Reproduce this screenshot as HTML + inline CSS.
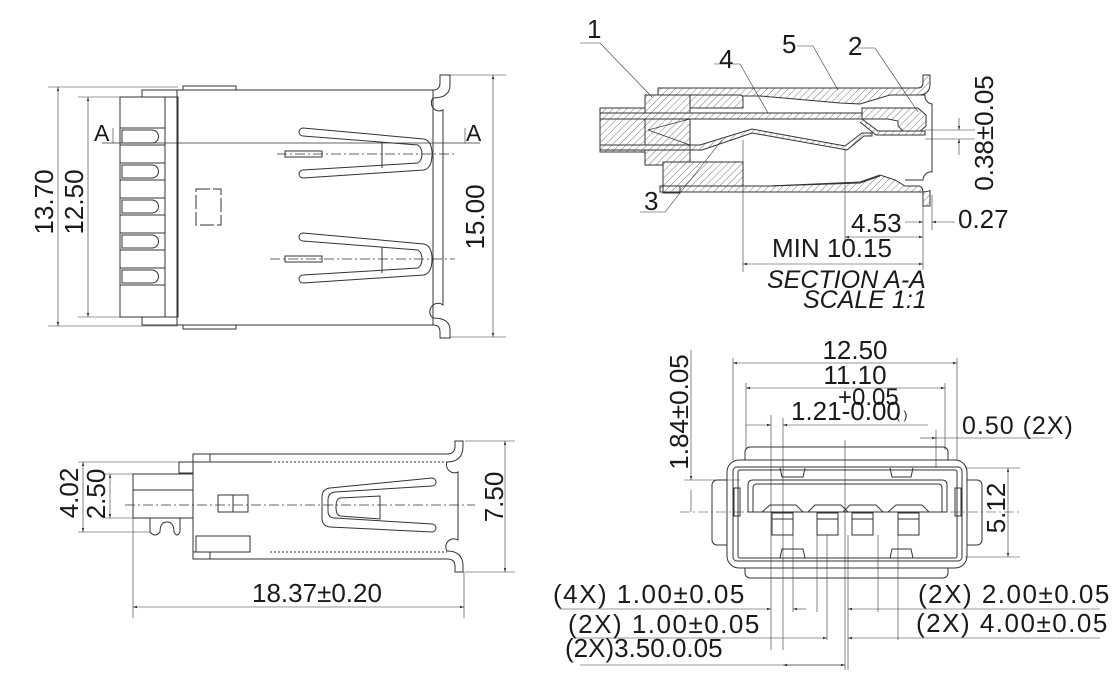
<!DOCTYPE html>
<html><head><meta charset="utf-8"><style>
html,body{margin:0;padding:0;background:#fff;}
svg{display:block;}
text{font-family:"Liberation Sans","Noto Sans CJK SC",sans-serif;fill:#1a1a1a;}
</style></head><body>
<svg width="1120" height="690" viewBox="0 0 1120 690" xmlns="http://www.w3.org/2000/svg">
<defs>
<pattern id="h" width="5" height="5" patternUnits="userSpaceOnUse" patternTransform="rotate(45)">
<rect width="5" height="5" fill="#fff"/><line x1="0" y1="0" x2="0" y2="5" stroke="#555" stroke-width="0.8"/>
</pattern>
<marker id="a" viewBox="0 0 10 10" refX="10" refY="5" markerWidth="7" markerHeight="7" orient="auto-start-reverse">
<path d="M0,2 L10,5 L0,8 Z" fill="#333"/></marker>
</defs>

<g fill="none" stroke="#333" stroke-width="1">
<rect x="177" y="90" width="256" height="235"/>
<rect x="183" y="86" width="53" height="4"/>
<rect x="183" y="325" width="53" height="4"/>
<rect x="120" y="97" width="58" height="220"/>
<line x1="165" y1="97" x2="165" y2="317"/>
<path d="M142,97 V90 H177"/><path d="M142,317 V325 H177"/>
<g>
<path d="M120,128 H165 M120,145 H165 M122,130 H152 A6,6 0 0 1 152,143 H122 Z"/>
<path d="M120,163 H165 M120,180 H165 M122,165 H152 A6,6 0 0 1 152,178 H122 Z"/>
<path d="M120,198 H165 M120,215 H165 M122,200 H152 A6,6 0 0 1 152,213 H122 Z"/>
<path d="M120,233 H165 M120,250 H165 M122,235 H152 A6,6 0 0 1 152,248 H122 Z"/>
<path d="M120,268 H165 M120,285 H165 M122,270 H152 A6,6 0 0 1 152,283 H122 Z"/>
</g>
<path d="M433,90 Q440,90 440,83 V75 H450 V85 Q450,98 433,98 A8,8 0 0 0 443,110 V305 A8,8 0 0 0 433,318 Q450,318 450,330 V338 H440 V332 Q440,325 433,325"/>
<path d="M303,128 L424,139 Q432,141 432,154 Q432,168 424,170 L303,178 A4,4 0 0 1 303,170 L418,163 Q422,160 422,154 Q422,148 418,145 L303,136 A4,4 0 0 1 303,128 Z"/>
<line x1="382" y1="142" x2="382" y2="168"/>
<rect x="285" y="151" width="37" height="6"/>
<path d="M303,233 L424,244 Q432,246 432,259 Q432,273 424,275 L303,283 A4,4 0 0 1 303,275 L418,268 Q422,265 422,259 Q422,253 418,250 L303,241 A4,4 0 0 1 303,233 Z"/>
<line x1="382" y1="247" x2="382" y2="273"/>
<rect x="285" y="256" width="37" height="6"/>
<rect x="196" y="189" width="25" height="36" stroke-dasharray="14,3"/>
<line x1="277" y1="154" x2="455" y2="154" stroke-dasharray="10,3,2,3" stroke-width="0.7"/>
<line x1="270" y1="259" x2="455" y2="259" stroke-dasharray="10,3,2,3" stroke-width="0.7"/>
<line x1="102" y1="143" x2="480" y2="143" stroke-width="0.7"/>
<line x1="48" y1="87" x2="178" y2="87" stroke-width="0.6"/>
<line x1="48" y1="326" x2="178" y2="326" stroke-width="0.6"/>
<line x1="58" y1="87" x2="58" y2="326" stroke-width="0.6" marker-start="url(#a)" marker-end="url(#a)"/>
<line x1="78" y1="97" x2="120" y2="97" stroke-width="0.6"/>
<line x1="78" y1="317" x2="120" y2="317" stroke-width="0.6"/>
<line x1="88" y1="97" x2="88" y2="317" stroke-width="0.6" marker-start="url(#a)" marker-end="url(#a)"/>
<line x1="450" y1="75" x2="506" y2="75" stroke-width="0.6"/>
<line x1="450" y1="337" x2="506" y2="337" stroke-width="0.6"/>
<line x1="493" y1="75" x2="493" y2="337" stroke-width="0.6" marker-start="url(#a)" marker-end="url(#a)"/>
<line x1="113" y1="128" x2="113" y2="143" stroke-width="0.6"/>
<line x1="465" y1="128" x2="465" y2="143" stroke-width="0.6"/>
</g>
<text x="94" y="141" font-size="23">A</text>
<text x="466" y="141" font-size="23">A</text>
<text transform="translate(53,202) rotate(-90)" text-anchor="middle" font-size="26">13.70</text>
<text transform="translate(83,202) rotate(-90)" text-anchor="middle" font-size="26">12.50</text>
<text transform="translate(484,217) rotate(-90)" text-anchor="middle" font-size="26">15.00</text>

<g fill="none" stroke="#333" stroke-width="1">
<path d="M193,454 H447 Q455,454 455,446 V441 H463 V446 Q463,462 447,462 A8,8 0 0 0 458,472 V540 A8,8 0 0 0 447,551 Q463,551 463,566 V572 H455 V566 Q455,559 447,559 H193 Z"/>
<line x1="270" y1="462" x2="447" y2="462" stroke-dasharray="2,2"/>
<line x1="270" y1="552" x2="447" y2="552" stroke-dasharray="2,2"/>
<line x1="193" y1="462" x2="270" y2="462"/><line x1="210" y1="454" x2="210" y2="462"/>
<rect x="179" y="462" width="14" height="11"/>
<rect x="133" y="474" width="60" height="44"/>
<line x1="133" y1="490" x2="193" y2="490"/>
<path d="M150,518 V532 Q155,538 160,532 Q160,522 167,522 Q174,522 174,532 Q177,538 180,532 V518"/>
<rect x="196" y="536" width="54" height="16"/>
<rect x="193" y="552" width="17" height="7"/>
<rect x="218" y="495" width="30" height="17"/><line x1="233" y1="495" x2="233" y2="512"/>
<path d="M432,478 A4,4 0 0 1 432,486 L335,492 Q328,493 328,500 V511 Q328,518 335,518 L432,524 A4,4 0 0 1 432,532 L330,527 Q322,526 322,518 V497 Q322,489 330,488 Z"/>
<path d="M340,498 L380,496 V519 L340,516 Q336,515 336,507 Q336,499 340,498 Z"/>
<line x1="125" y1="505" x2="475" y2="505" stroke-dasharray="10,3,2,3" stroke-width="0.7"/>
<line x1="78" y1="462" x2="180" y2="462" stroke-width="0.6"/>
<line x1="78" y1="532" x2="150" y2="532" stroke-width="0.6"/>
<line x1="83" y1="462" x2="83" y2="532" stroke-width="0.6" marker-start="url(#a)" marker-end="url(#a)"/>
<line x1="105" y1="474" x2="133" y2="474" stroke-width="0.6"/>
<line x1="105" y1="518" x2="150" y2="518" stroke-width="0.6"/>
<line x1="110" y1="474" x2="110" y2="518" stroke-width="0.6" marker-start="url(#a)" marker-end="url(#a)"/>
<line x1="465" y1="441" x2="515" y2="441" stroke-width="0.6"/>
<line x1="465" y1="572" x2="515" y2="572" stroke-width="0.6"/>
<line x1="505" y1="441" x2="505" y2="572" stroke-width="0.6" marker-start="url(#a)" marker-end="url(#a)"/>
<line x1="133" y1="518" x2="133" y2="618" stroke-width="0.6"/>
<line x1="464" y1="572" x2="464" y2="618" stroke-width="0.6"/>
<line x1="133" y1="607" x2="464" y2="607" stroke-width="0.6" marker-start="url(#a)" marker-end="url(#a)"/>
</g>
<text transform="translate(78,493) rotate(-90)" text-anchor="middle" font-size="26">4.02</text>
<text transform="translate(105,494) rotate(-90)" text-anchor="middle" font-size="26">2.50</text>
<text transform="translate(503,497) rotate(-90)" text-anchor="middle" font-size="26">7.50</text>
<text x="252" y="602" font-size="26">18.37±0.20</text>

<g stroke="#333" stroke-width="1">
<path d="M658,88 H918 Q923,88 923,82 V75 H930 V84 Q930,95 918,95 H890 L860,104 L840,103 L760,96 H658 Z" fill="url(#h)"/>
<rect x="645" y="95" width="45" height="70" fill="url(#h)"/>
<path d="M690,95 H740 Q743,95 743,99 V108 H690 Z" fill="url(#h)"/>
<rect x="600" y="108" width="45" height="44" fill="url(#h)"/>
<rect x="600" y="113" width="268" height="6" fill="url(#h)"/>
<path d="M862,108 H918 L926,115 V126 L918,133 H905 L898,126 V121 L888,119 H862 Z" fill="url(#h)"/>
<path d="M862,119 L878,131 H925 V135 H876 L860,122" fill="url(#h)"/>
<rect x="663" y="162" width="80" height="24" fill="url(#h)"/>
<path d="M600,145 H700 L752,129 L845,146 L862,133 H872 V136 H864 L847,150 L752,133 L702,150 H600 Z" fill="url(#h)"/>
<line x1="690" y1="119" x2="690" y2="160"/>
<line x1="648" y1="130" x2="690" y2="119" stroke-width="0.7"/>
<line x1="648" y1="130" x2="690" y2="145" stroke-width="0.7"/>
<path d="M660,186 H770 L860,182 L880,175 L895,180 L905,186 H918 Q923,186 923,193 V206 H930 V190 Q930,192 918,192 H660 Z" fill="url(#h)"/>
<path d="M770,186 L860,183 L880,176" fill="none"/>
<rect x="663" y="186" width="17" height="7" fill="none"/>
<path d="M918,95 H925 A8,8 0 0 0 932,104 V172 A8,8 0 0 0 923,180 H905" fill="none"/>
<g fill="none" stroke-width="0.6">
<path d="M580,43 H600 L652,97"/>
<path d="M714,64 H740 L768,113"/>
<path d="M797,46 H813 L838,90"/>
<path d="M858,48 H875 L918,112"/>
<path d="M640,212 H665 L722,140"/>
<line x1="743" y1="140" x2="743" y2="272"/>
<line x1="845" y1="148" x2="845" y2="242"/>
<line x1="923" y1="195" x2="923" y2="270"/>
<line x1="932" y1="195" x2="932" y2="230"/>
<line x1="845" y1="237" x2="923" y2="237" marker-start="url(#a)" marker-end="url(#a)"/>
<line x1="743" y1="264" x2="923" y2="264" marker-start="url(#a)" marker-end="url(#a)"/>
<line x1="905" y1="222" x2="923" y2="222" marker-end="url(#a)"/>
<line x1="955" y1="222" x2="932" y2="222" marker-end="url(#a)"/>
<line x1="925" y1="130" x2="975" y2="130"/>
<line x1="925" y1="139" x2="975" y2="139"/>
<line x1="959" y1="118" x2="959" y2="130" marker-end="url(#a)"/>
<line x1="959" y1="155" x2="959" y2="139" marker-end="url(#a)"/>
</g>
</g>
<text x="587" y="38" font-size="26">1</text>
<text x="848" y="55" font-size="26">2</text>
<text x="644" y="210" font-size="26">3</text>
<text x="719" y="68" font-size="26">4</text>
<text x="782" y="53" font-size="26">5</text>
<text transform="translate(993,133) rotate(-90)" text-anchor="middle" font-size="26">0.38±0.05</text>
<text x="851" y="232" font-size="26">4.53</text>
<text x="958" y="228" font-size="26">0.27</text>
<text x="772" y="257" font-size="26">MIN 10.15</text>
<text x="767" y="288" font-size="25" font-style="italic">SECTION  A-A</text>
<text x="803" y="308" font-size="25" font-style="italic">SCALE  1:1</text>

<g fill="none" stroke="#333" stroke-width="1">
<rect x="745" y="447" width="203" height="131" rx="5"/>
<rect x="712" y="480" width="22" height="65" rx="5"/>
<rect x="960" y="480" width="22" height="65" rx="5"/>
<rect x="727" y="460" width="240" height="108" rx="12" fill="#fff"/>
<rect x="733" y="467" width="229" height="94" rx="4"/>
<rect x="738" y="470" width="219" height="88" rx="2"/>
<rect x="734" y="488" width="6" height="28"/><rect x="955" y="488" width="6" height="28"/>
<path d="M748,512 V485 Q748,480 753,480 H942 Q947,480 947,485 V512 Z"/>
<path d="M753,512 V488 Q753,484 757,484 H938 Q942,484 942,488 V512"/>
<path d="M780,468 L782,477 H803 L805,468"/>
<path d="M890,468 L892,477 H911 L913,468"/>
<path d="M780,558 L782,549 H803 L805,558"/>
<path d="M890,558 L892,549 H911 L913,558"/>
<g>
<path d="M762,512 L770,505 H796 L803,512"/><rect x="772" y="513" width="21" height="22"/><line x1="772" y1="519" x2="793" y2="519"/>
<path d="M808,512 L815,505 H841 L848,512"/><rect x="817" y="513" width="21" height="22"/><line x1="817" y1="519" x2="838" y2="519"/>
<path d="M843,512 L850,505 H876 L883,512"/><rect x="852" y="513" width="21" height="22"/><line x1="852" y1="519" x2="873" y2="519"/>
<path d="M888,512 L896,505 H922 L929,512"/><rect x="898" y="513" width="21" height="22"/><line x1="898" y1="519" x2="919" y2="519"/>
</g>
<g stroke-width="0.6">
<line x1="680" y1="512" x2="1020" y2="512" stroke-dasharray="10,3,2,3"/>
<line x1="845" y1="440" x2="845" y2="670"/>
<line x1="733" y1="358" x2="733" y2="460"/><line x1="957" y1="358" x2="957" y2="460"/>
<line x1="733" y1="363" x2="957" y2="363" marker-start="url(#a)" marker-end="url(#a)"/>
<line x1="746" y1="383" x2="746" y2="450"/><line x1="945" y1="383" x2="945" y2="450"/>
<line x1="746" y1="388" x2="945" y2="388" marker-start="url(#a)" marker-end="url(#a)"/>
<line x1="771" y1="415" x2="771" y2="650"/><line x1="783" y1="418" x2="783" y2="650"/>
<line x1="746" y1="425" x2="771" y2="425" marker-end="url(#a)"/>
<line x1="783" y1="425" x2="928" y2="425" marker-start="url(#a)"/>
<line x1="935" y1="438" x2="1053" y2="438"/>
<line x1="920" y1="438" x2="936" y2="438" marker-end="url(#a)"/>
<line x1="936" y1="430" x2="936" y2="468"/>
<line x1="684" y1="480" x2="740" y2="480"/>
<line x1="691" y1="350" x2="691" y2="480" marker-end="url(#a)"/>
<line x1="691" y1="512" x2="691" y2="490"/>
<line x1="965" y1="468" x2="1020" y2="468"/><line x1="965" y1="557" x2="1020" y2="557"/>
<line x1="1008" y1="468" x2="1008" y2="557" marker-start="url(#a)" marker-end="url(#a)"/>
<line x1="793" y1="535" x2="793" y2="612"/><line x1="817" y1="535" x2="817" y2="612"/>
<line x1="827" y1="535" x2="827" y2="640"/><line x1="848" y1="535" x2="848" y2="670"/>
<line x1="878" y1="535" x2="878" y2="612"/>
<line x1="898" y1="535" x2="898" y2="640"/>
<line x1="560" y1="609" x2="771" y2="609" marker-end="url(#a)"/>
<line x1="793" y1="609" x2="806" y2="609" marker-start="url(#a)"/>
<line x1="848" y1="609" x2="878" y2="609" marker-start="url(#a)"/>
<line x1="878" y1="609" x2="1100" y2="609"/>
<line x1="575" y1="638" x2="827" y2="638" marker-end="url(#a)"/>
<line x1="848" y1="638" x2="1100" y2="638" marker-start="url(#a)"/>
<line x1="580" y1="665" x2="845" y2="665"/>
<line x1="783" y1="665" x2="845" y2="665" marker-start="url(#a)" marker-end="url(#a)"/>
</g>
</g>
<text x="855" y="359" font-size="26" text-anchor="middle">12.50</text>
<text x="855" y="384" font-size="26" text-anchor="middle">11.10</text>
<text x="838" y="405" font-size="24">+0.05</text>
<text x="791" y="420" font-size="26">1.21-0.00</text>
<text x="896" y="419" font-size="12">(  )</text>
<text x="962" y="434" font-size="25" letter-spacing="1">0.50 (2X)</text>
<text transform="translate(688,412) rotate(-90)" text-anchor="middle" font-size="26">1.84±0.05</text>
<text transform="translate(1005,508) rotate(-90)" text-anchor="middle" font-size="26">5.12</text>
<text x="553" y="603" font-size="26" letter-spacing="1.5">(4X) 1.00±0.05</text>
<text x="568" y="633" font-size="26" letter-spacing="1.5">(2X) 1.00±0.05</text>
<text x="565" y="657" font-size="26">(2X)3.50.0.05</text>
<text x="918" y="603" font-size="26" letter-spacing="1.5">(2X) 2.00±0.05</text>
<text x="916" y="632" font-size="26" letter-spacing="1.5">(2X) 4.00±0.05</text>
</svg>
</body></html>
